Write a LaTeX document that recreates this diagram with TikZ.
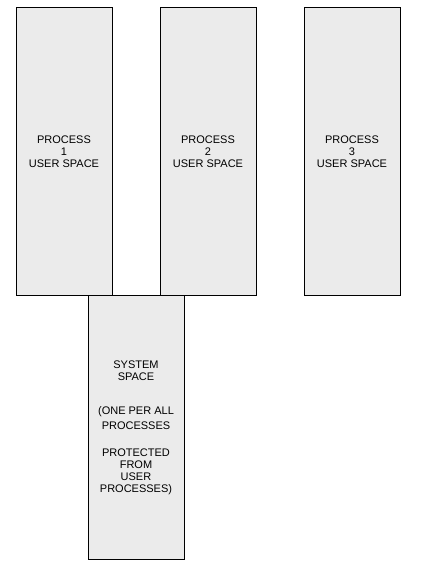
\documentclass[tikz,border=0pt]{standalone}
\usepackage{fontspec}
\setmainfont{Liberation Sans}
\usetikzlibrary{positioning}
\definecolor{boxgray}{HTML}{EBEBEB}
\tikzset{
	spacebox/.style={
		draw=black, line width=1pt, fill=boxgray, outer sep=0pt,
		minimum width=96pt, minimum height=288pt,
		align=center, font=\fontsize{11}{12}\selectfont
	}
}
\begin{document}
\begin{tikzpicture}[x=1pt,y=1pt,node distance=48pt]
		\useasboundingbox (0,0) rectangle (425,574);
		\node[spacebox](proc1) at (64,422){PROCESS\\1\\USER SPACE};
		\node[spacebox,right=of proc1](proc2){PROCESS\\2\\USER SPACE};
		\node[spacebox,right=of proc2](proc3){PROCESS\\3\\USER SPACE};
		\node[
			spacebox, minimum height=264pt, anchor=north west
		](sys) at ([xshift=24pt]proc1.south){SYSTEM\\SPACE\\[22pt](ONE PER ALL\\[3pt]PROCESSES\\[15pt]PROTECTED\\FROM\\USER\\PROCESSES)};
	\end{tikzpicture}
\end{document}
